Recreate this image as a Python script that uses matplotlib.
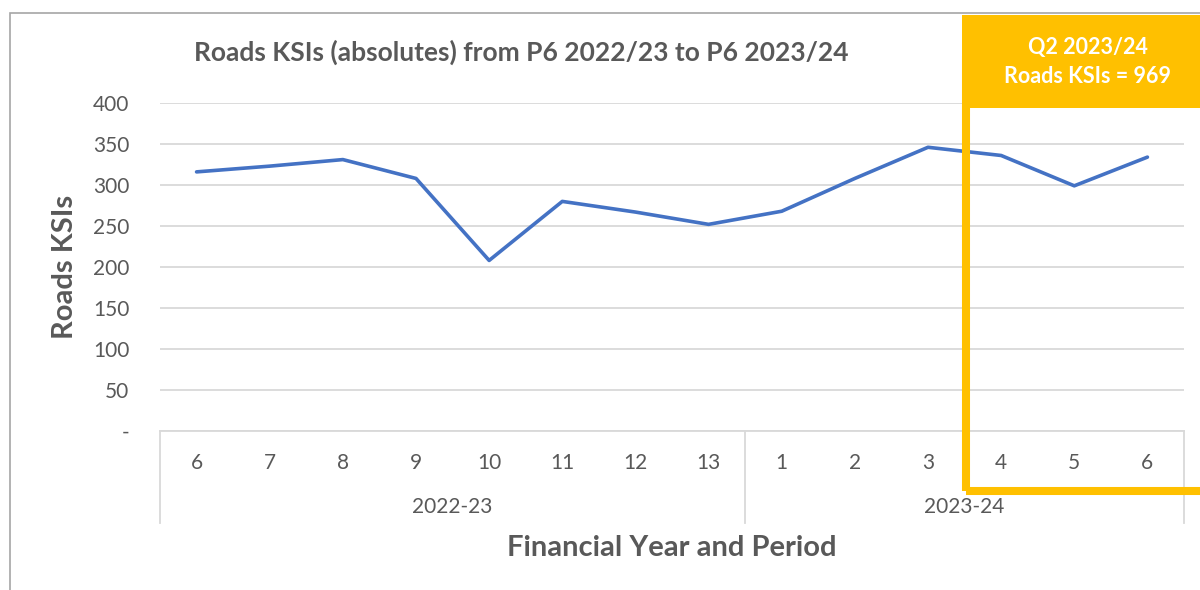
import matplotlib
matplotlib.use("Agg")
import matplotlib.pyplot as plt
from matplotlib.patches import Rectangle
from matplotlib.lines import Line2D
import matplotlib.transforms as mtransforms

plt.rcParams['font.family'] = ['Lato', 'DejaVu Sans']

periods = ["6", "7", "8", "9", "10", "11", "12", "13", "1", "2", "3", "4", "5", "6"]
years = ["2022-23", "2023-24"]
year_counts = [8, 6]
ksi = [316, 323, 331, 308, 208, 280, 267, 252, 268, 308, 346, 336, 299, 334]
yticks = [0, 50, 100, 150, 200, 250, 300, 350, 400]
ytick_labels = ["-", "50", "100", "150", "200", "250", "300", "350", "400"]
title = "Roads KSIs (absolutes) from P6 2022/23 to P6 2023/24"
box_text = "Q2 2023/24\nRoads KSIs = 969"

W, H = 1200, 590
fig = plt.figure(figsize=(W / 100, H / 100), dpi=100)

def fx(px):
    return px / W

def fy(py):
    return 1 - py / H

gray = "#595959"
grid = "#d9d9d9"
tfs = 15

ax = fig.add_axes([fx(160), fy(431), fx(1184) - fx(160), fy(103) - fy(431)])
x = list(range(len(ksi)))
ax.plot(x, ksi, color="#4472c4", linewidth=2.6, solid_capstyle="round")
ax.set_xlim(-0.5, len(ksi) - 0.5)
ax.set_ylim(0, 400)
ax.set_yticks(yticks)
ax.set_yticklabels(ytick_labels, color=gray, fontsize=tfs)
ax.tick_params(axis="y", length=0, pad=22)
ax.set_xticks([])
for s in ["top", "right", "left"]:
    ax.spines[s].set_visible(False)
ax.spines["bottom"].set_color(grid)
ax.spines["bottom"].set_linewidth(1.3)
ax.grid(axis="y", color=grid, linewidth=1.3)
ax.set_axisbelow(True)

# category labels
trans = mtransforms.blended_transform_factory(ax.transData, fig.transFigure)
for i, p in enumerate(periods):
    ax.text(i, fy(463), p, transform=trans, ha="center", va="center", color=gray, fontsize=tfs)
start = 0
bounds = [-0.5]
for yname, c in zip(years, year_counts):
    mid = start + (c - 1) / 2
    ax.text(mid, fy(507), yname, transform=trans, ha="center", va="center", color=gray, fontsize=tfs)
    start += c
    bounds.append(start - 0.5)
for b in bounds:
    ax.add_line(Line2D([b, b], [fy(431), fy(523)], transform=trans, color=grid, linewidth=1.3, clip_on=False))

# title and axis labels
fig.text(fx(521), fy(52), title, ha="center", va="center", color=gray, fontsize=19, fontweight="bold")
fig.text(fx(65), fy(267), "Roads KSIs", ha="center", va="center", rotation=90, color=gray, fontsize=21, fontweight="bold")
fig.text(fx(672), fy(548), "Financial Year and Period", ha="center", va="center", color=gray, fontsize=21, fontweight="bold")

# chart border
fig.add_artist(Rectangle((fx(10), fy(620)), fx(1230) - fx(10), fy(13) - fy(620),
                         transform=fig.transFigure, fill=False, edgecolor="#a6a6a6", linewidth=1.2))

# highlight box
yellow = "#ffc000"
fig.add_artist(Rectangle((fx(966), fy(491)), fx(1230) - fx(966), fy(60) - fy(491),
                         transform=fig.transFigure, fill=False, edgecolor=yellow, linewidth=5.8))
fig.add_artist(Rectangle((fx(962), fy(108)), fx(1205) - fx(962), fy(15) - fy(108),
                         transform=fig.transFigure, facecolor=yellow, edgecolor="none"))
fig.text(fx(1088), fy(62), box_text, ha="center", va="center", color="white", fontsize=15.5,
         fontweight="bold", linespacing=1.5)

fig.savefig("out.png", dpi=100)
